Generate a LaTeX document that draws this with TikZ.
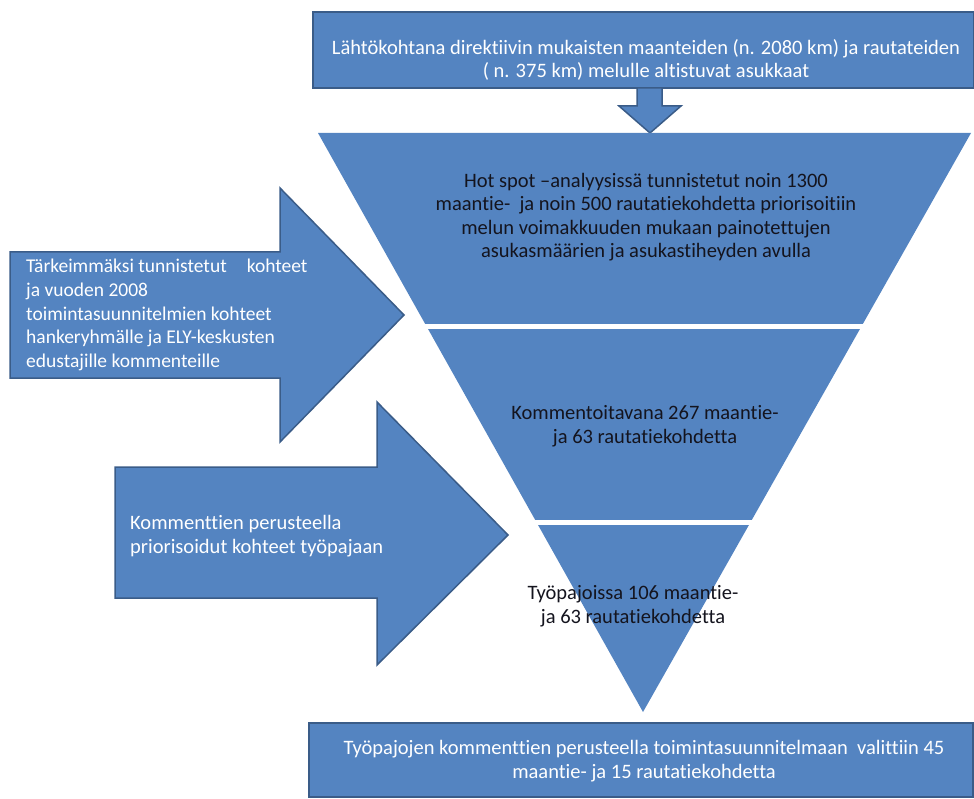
\documentclass[tikz,border=0pt]{standalone}
\usepackage{fontspec}
\setmainfont{Carlito}[Ligatures=NoCommon]
\definecolor{boxblue}{RGB}{84,132,193}
\definecolor{edgeblue}{RGB}{58,92,136}
\definecolor{darktext}{RGB}{20,20,30}
\begin{document}
\begin{tikzpicture}[x=1pt,y=-1pt,
  blockshape/.style={fill=boxblue,draw=edgeblue,line width=1.5pt,line join=miter},
  lighttext/.style={text=white,font=\fontsize{20.5}{23.5}\selectfont,inner sep=0pt},
  darklabel/.style={text=darktext,font=\fontsize{20.5}{23.5}\selectfont,align=center,inner sep=0pt},
  gapline/.style={draw=white,line width=5pt}]
\useasboundingbox (0,0) rectangle (974,799);
% top box
\node[blockshape,minimum width=661pt,minimum height=76pt,inner sep=0pt] (top) at (643.5,50) {};
\node[lighttext,align=center] (toptext) at (646,60) {Lähtökohtana direktiivin mukaisten maanteiden (n. 2080 km) ja rautateiden\\( n. 375 km) melulle altistuvat asukkaat};
% down arrow
\draw[blockshape] (637,88) -- (662,88) -- (662,106) -- (681,106) -- (650,133) -- (619,106) -- (637,106) -- cycle;
% funnel
\coordinate (ftl) at (318,133);
\coordinate (ftr) at (971,133);
\coordinate (fbot) at (643,712);
\fill[boxblue] (ftl) -- (ftr) -- (fbot) -- cycle;
\draw[gapline] (420,327) -- (868,327);
\draw[gapline] (530,522) -- (758,522);
\node[darklabel] (hot) at (646,217) {Hot spot –analyysissä tunnistetut noin 1300\\maantie-\ \ ja noin 500 rautatiekohdetta priorisoitiin\\melun voimakkuuden mukaan painotettujen\\asukasmäärien ja asukastiheyden avulla};
\node[darklabel] (komm) at (645,426) {Kommentoitavana 267 maantie-\\ja 63 rautatiekohdetta};
\node[darklabel] (tyo) at (633,606) {Työpajoissa 106 maantie-\\ja 63 rautatiekohdetta};
% left arrow 1
\draw[blockshape] (10,252) -- (280,252) -- (280,188) -- (404,315) -- (280,442) -- (280,378) -- (10,378) -- cycle;
\node[lighttext,align=left,anchor=north west,font=\fontsize{19.5}{23.7}\selectfont] (arr1) at (26,259) {Tärkeimmäksi tunnistetut\hspace{20pt}kohteet\\ja vuoden 2008\\toimintasuunnitelmien kohteet\\hankeryhmälle ja ELY-keskusten\\edustajille kommenteille};
% left arrow 2
\draw[blockshape] (115,467) -- (377,467) -- (377,402) -- (508,535) -- (377,665) -- (377,598) -- (115,598) -- cycle;
\node[lighttext,align=left,anchor=west] (arr2) at (130,536) {Kommenttien perusteella\\priorisoidut kohteet työpajaan};
% bottom box
\node[blockshape,minimum width=664pt,minimum height=74pt,inner sep=0pt] (bot) at (641,760) {};
\node[lighttext,align=center] (bottext) at (644,761) {Työpajojen kommenttien perusteella toimintasuunnitelmaan\ \ valittiin 45\\maantie- ja 15 rautatiekohdetta};
\end{tikzpicture}
\end{document}
